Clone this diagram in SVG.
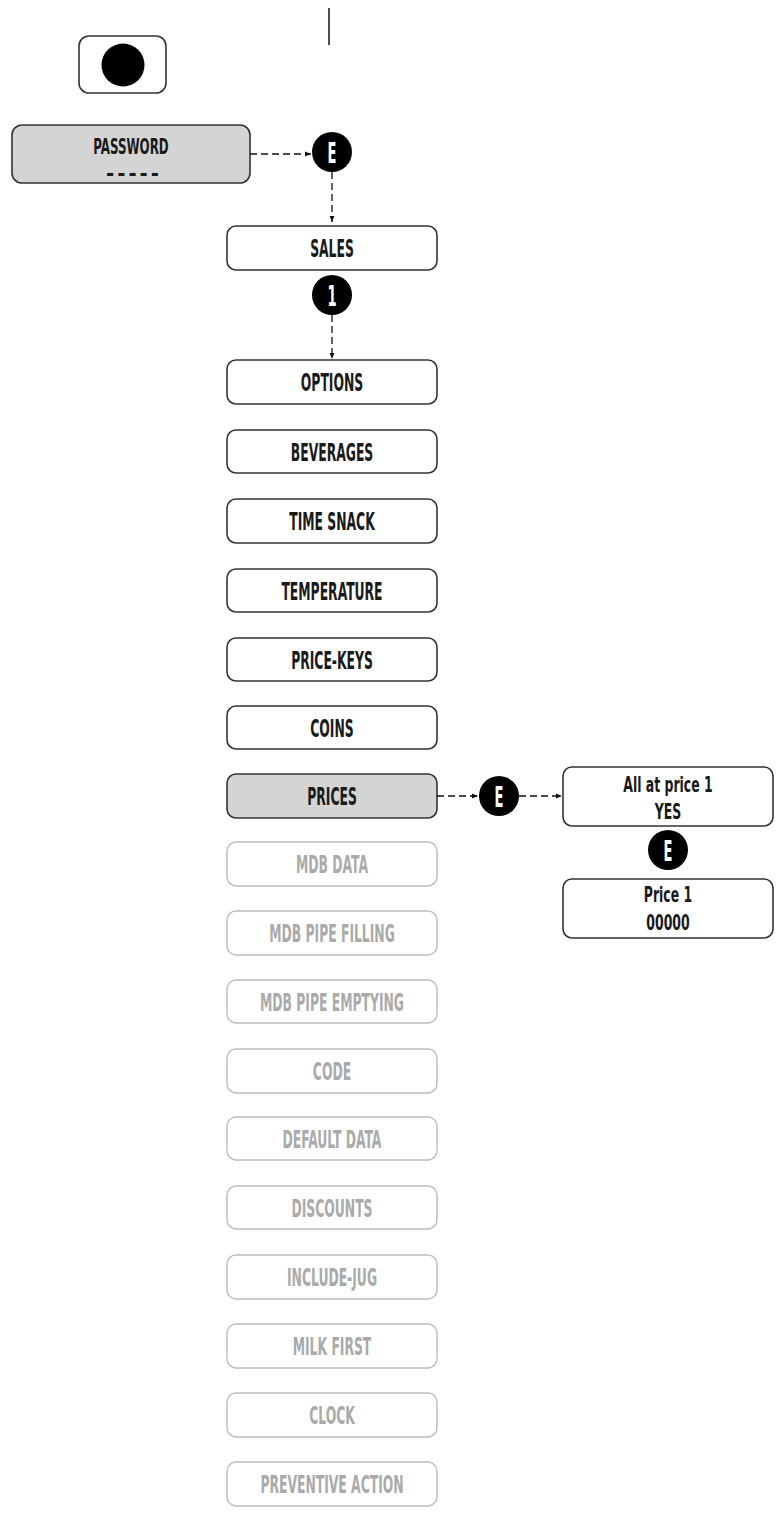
<svg xmlns="http://www.w3.org/2000/svg" width="779" height="1515" viewBox="0 0 779 1515">
<defs>
<marker id="ah" viewBox="0 0 10 10" refX="10" refY="5" markerWidth="7" markerHeight="6" orient="auto" markerUnits="userSpaceOnUse">
<path d="M0,1 L10,5 L0,9 Z" fill="#111"/>
</marker>
<style>
.box{fill:#fff;stroke:#333;stroke-width:1.6}
.sel{fill:#d4d4d4;stroke:#333;stroke-width:1.6}
.dim{fill:#fff;stroke:#bdbdbd;stroke-width:1.4}
.t{font-family:"DejaVu Sans Condensed","DejaVu Sans",sans-serif;font-size:25px;font-weight:bold;fill:#1a1a1a;text-anchor:middle}
.t2{font-family:"DejaVu Sans Condensed","DejaVu Sans",sans-serif;font-size:22px;font-weight:bold;fill:#1a1a1a;text-anchor:middle}
.td{font-family:"DejaVu Sans Condensed","DejaVu Sans",sans-serif;font-size:25px;font-weight:bold;fill:#aaaaaa;text-anchor:middle}
.ct{font-family:"DejaVu Sans Condensed","DejaVu Sans",sans-serif;font-size:29px;font-weight:bold;fill:#fff;text-anchor:middle}
.con{stroke:#111;stroke-width:1.3;fill:none;stroke-dasharray:7 4}
</style>
</defs>
<rect width="779" height="1515" fill="#fff"/>
<line x1="329" y1="8" x2="329" y2="45" stroke="#111" stroke-width="1.5"/>
<g id="button">
<rect x="79" y="36" width="87" height="57" rx="10" class="box"/>
<circle cx="123" cy="65" r="21.5" fill="#000"/>
</g>
<g id="password">
<rect x="12" y="125" width="238" height="58" rx="10" class="sel"/>
<text class="t2" transform="translate(131,154) scale(0.6,1)">PASSWORD</text>
<text class="t2" transform="translate(134,181)" letter-spacing="3">-----</text>
</g>
<g id="e1"><circle cx="332" cy="152" r="20" fill="#000"/><text class="ct" transform="translate(332,162.5) scale(0.5,1)">E</text></g>
<g id="sales"><rect x="227" y="226" width="210" height="44" rx="9" class="box"/><text class="t" transform="translate(332,257) scale(0.55,1)">SALES</text></g>
<g id="one"><circle cx="332" cy="295" r="20" fill="#000"/><text class="ct" transform="translate(332,305.5) scale(0.5,1)">1</text></g>
<g id="n0"><rect x="227" y="360" width="210" height="44" rx="9" class="box"/><text class="t" transform="translate(332,391) scale(0.55,1)">OPTIONS</text></g>
<g id="n1"><rect x="227" y="430" width="210" height="43" rx="9" class="box"/><text class="t" transform="translate(332,460.5) scale(0.55,1)">BEVERAGES</text></g>
<g id="n2"><rect x="227" y="499" width="210" height="44" rx="9" class="box"/><text class="t" transform="translate(332,530) scale(0.55,1)">TIME SNACK</text></g>
<g id="n3"><rect x="227" y="569" width="210" height="43" rx="9" class="box"/><text class="t" transform="translate(332,599.5) scale(0.55,1)">TEMPERATURE</text></g>
<g id="n4"><rect x="227" y="638" width="210" height="43" rx="9" class="box"/><text class="t" transform="translate(332,668.5) scale(0.55,1)">PRICE-KEYS</text></g>
<g id="n5"><rect x="227" y="706" width="210" height="43" rx="9" class="box"/><text class="t" transform="translate(332,736.5) scale(0.55,1)">COINS</text></g>
<g id="n6"><rect x="227" y="774" width="210" height="44" rx="9" class="sel"/><text class="t" transform="translate(332,805) scale(0.55,1)">PRICES</text></g>
<g id="n7"><rect x="227" y="842" width="210" height="44" rx="9" class="dim"/><text class="td" transform="translate(332,873) scale(0.55,1)">MDB DATA</text></g>
<g id="n8"><rect x="227" y="911" width="210" height="44" rx="9" class="dim"/><text class="td" transform="translate(332,942) scale(0.55,1)">MDB PIPE FILLING</text></g>
<g id="n9"><rect x="227" y="980" width="210" height="43" rx="9" class="dim"/><text class="td" transform="translate(332,1010.5) scale(0.55,1)">MDB PIPE EMPTYING</text></g>
<g id="n10"><rect x="227" y="1049" width="210" height="44" rx="9" class="dim"/><text class="td" transform="translate(332,1080) scale(0.55,1)">CODE</text></g>
<g id="n11"><rect x="227" y="1117" width="210" height="43" rx="9" class="dim"/><text class="td" transform="translate(332,1147.5) scale(0.55,1)">DEFAULT DATA</text></g>
<g id="n12"><rect x="227" y="1186" width="210" height="43" rx="9" class="dim"/><text class="td" transform="translate(332,1216.5) scale(0.55,1)">DISCOUNTS</text></g>
<g id="n13"><rect x="227" y="1255" width="210" height="44" rx="9" class="dim"/><text class="td" transform="translate(332,1286) scale(0.55,1)">INCLUDE-JUG</text></g>
<g id="n14"><rect x="227" y="1324" width="210" height="44" rx="9" class="dim"/><text class="td" transform="translate(332,1355) scale(0.55,1)">MILK FIRST</text></g>
<g id="n15"><rect x="227" y="1393" width="210" height="44" rx="9" class="dim"/><text class="td" transform="translate(332,1424) scale(0.55,1)">CLOCK</text></g>
<g id="n16"><rect x="227" y="1462" width="210" height="44" rx="9" class="dim"/><text class="td" transform="translate(332,1493) scale(0.55,1)">PREVENTIVE ACTION</text></g>
<g id="e2"><circle cx="499" cy="796" r="20" fill="#000"/><text class="ct" transform="translate(499,806.5) scale(0.5,1)">E</text></g>
<g id="allprice"><rect x="563" y="767" width="210" height="59" rx="9" class="box"/>
<text class="t2" transform="translate(668,792) scale(0.63,1)">All at price 1</text>
<text class="t2" transform="translate(668,819) scale(0.63,1)">YES</text></g>
<g id="e3"><circle cx="668" cy="850" r="20" fill="#000"/><text class="ct" transform="translate(668,860.5) scale(0.5,1)">E</text></g>
<g id="price1"><rect x="563" y="879" width="210" height="59" rx="9" class="box"/>
<text class="t2" transform="translate(668,902) scale(0.63,1)">Price 1</text>
<text class="t2" transform="translate(668,930) scale(0.63,1)">00000</text></g>
<g id="connectors">
<line x1="250" y1="154" x2="311" y2="154" class="con" marker-end="url(#ah)"/>
<line x1="332" y1="172" x2="332" y2="222" class="con" marker-end="url(#ah)"/>
<line x1="332" y1="315" x2="332" y2="359" class="con" marker-end="url(#ah)"/>
<line x1="437" y1="796" x2="478" y2="796" class="con" marker-end="url(#ah)"/>
<line x1="519" y1="796" x2="562" y2="796" class="con" marker-end="url(#ah)"/>
</g>
</svg>
